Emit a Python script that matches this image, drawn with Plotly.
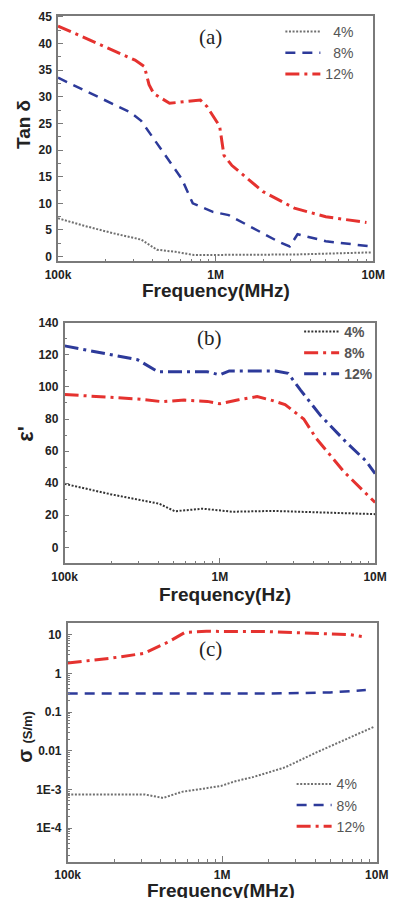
import plotly.graph_objects as go

# ---------------- data ----------------
# (a) Tan delta vs frequency
a_f4 = [1e5, 1.42e5, 2.23e5, 3.37e5, 4.24e5, 5.57e5, 7.3e5, 1e6, 3.16e6, 9.7e6]
a_v4 = [7.2, 5.9, 4.4, 3.2, 1.3, 0.9, 0.3, 0.3, 0.4, 0.8]
a_f8 = [1e5, 2.87e5, 3.37e5, 4.05e5, 5.1e5, 6.1e5, 7.16e5, 9.6e5, 1.21e6, 1.59e6, 2.51e6, 2.95e6, 3.31e6, 5.0e6, 9.7e6]
a_v8 = [33.6, 27.1, 25.5, 22.1, 18.0, 14.6, 10.0, 8.4, 7.8, 5.9, 2.8, 1.9, 4.2, 2.9, 1.9]
a_f12 = [1e5, 3.08e5, 3.53e5, 3.78e5, 4.05e5, 5.1e5, 8.0e5, 8.8e5, 1.06e6, 1.13e6, 1.27e6, 2.0e6, 3.16e6, 5.0e6, 9.06e6]
a_v12 = [43.3, 36.9, 35.7, 32.3, 30.6, 28.8, 29.4, 28.2, 24.5, 19.0, 17.1, 12.2, 9.1, 7.5, 6.4]

# (b) epsilon' vs frequency
b_f4 = [1e5, 2e5, 4.07e5, 5.13e5, 7.76e5, 1e6, 1.2e6, 2.2e6, 5e6, 1e7]
b_v4 = [39.6, 33, 27.2, 22.5, 24.1, 23.1, 22.2, 22.7, 21.6, 20.7]
b_f8 = [1e5, 2.95e5, 4.27e5, 5.89e5, 8.3e5, 1e6, 1.32e6, 1.74e6, 2.19e6, 2.63e6, 3.47e6, 4.17e6, 4.79e6, 6.31e6, 1e7]
b_v8 = [95.3, 92.5, 90.8, 91.8, 91, 89.5, 92, 94, 91.5, 89, 80, 68, 61, 47, 28]
b_f12 = [1e5, 2.95e5, 3.98e5, 8.3e5, 1e6, 1.15e6, 2.29e6, 2.75e6, 3.31e6, 4.47e6, 4.9e6, 6.6e6, 8.7e6, 1e7]
b_v12 = [125.6, 117, 109.5, 109.5, 107.5, 110, 110, 108.5, 98, 82, 78, 65, 54, 46]

# (c) sigma vs frequency
c_f4 = [1e5, 3.13e5, 4.14e5, 5.48e5, 9.8e5, 1.2e6, 1.6e6, 2.55e6, 4.07e6, 9.55e6]
c_v4 = [7.3e-4, 7.4e-4, 6.0e-4, 8.6e-4, 1.22e-3, 1.6e-3, 2.1e-3, 3.7e-3, 9e-3, 0.041]
c_f8 = [1e5, 5e5, 1e6, 2e6, 5e6, 8.5e6]
c_v8 = [0.30, 0.295, 0.29, 0.30, 0.32, 0.37]
c_f12 = [1e5, 1.95e5, 3.13e5, 4.55e5, 5.75e5, 7.9e5, 2e6, 4.05e6, 6.76e6, 8e6]
c_v12 = [1.85, 2.5, 3.3, 6.7, 11.5, 12.2, 12, 11, 10, 9]

x_tickvals = [1e5, 1e6, 1e7]
x_ticktext = ["100k", "1M", "10M"]
x_minor = [k * 1e5 for k in range(2, 10)] + [k * 1e6 for k in range(2, 10)]
c_y_tickvals = [1e-4, 1e-3, 1e-2, 1e-1, 1, 10]
c_y_ticktext = ["1E-4", "1E-3", "0.01", "0.1", "1", "10"]
c_y_minor = [k * 10.0 ** n for n in range(-5, 2) for k in range(2, 10)]

# ---------------- styling ----------------
W, H = 404, 898
RED = "#e5322f"
BLUE = "#2d3a9a"
GRAY = "#707070"
DARK = "#333333"
FRAME = "#7a7a7a"
FONT = "Liberation Sans, Arial, sans-serif"

DOT = "2px,1.6px"
DASH = "10px,7px"
DASHDOT = "14px,5px,3px,5px"


def px_x(p):
    return p / W


def px_y(p):
    return 1 - p / H


fig = go.Figure()


def add(x, y, name, color, dash, width, xa, ya, leg):
    fig.add_trace(go.Scatter(x=x, y=y, name=name, mode="lines",
                             line=dict(color=color, dash=dash, width=width),
                             xaxis=xa, yaxis=ya, legend=leg))


FS = "\u2007"
add(a_f4, a_v4, FS + "4%", GRAY, DOT, 2, "x", "y", "legend")
add(a_f8, a_v8, FS + "8%", BLUE, DASH, 2.5, "x", "y", "legend")
add(a_f12, a_v12, "12%", RED, DASHDOT, 3, "x", "y", "legend")

add(b_f4, b_v4, "4%", DARK, DOT, 2, "x2", "y2", "legend2")
add(b_f8, b_v8, "8%", RED, DASHDOT, 3, "x2", "y2", "legend2")
add(b_f12, b_v12, "12%", BLUE, DASHDOT, 3, "x2", "y2", "legend2")

add(c_f4, c_v4, "4%", GRAY, DOT, 2, "x3", "y3", "legend3")
add(c_f8, c_v8, "8%", BLUE, DASH, 2.5, "x3", "y3", "legend3")
add(c_f12, c_v12, "12%", RED, DASHDOT, 3, "x3", "y3", "legend3")

tickfont = dict(family=FONT, size=12, color="#222222", weight="bold")


def xaxis(dom, ya):
    return dict(type="log", range=[5, 7], domain=dom, anchor=ya,
                showline=True, mirror=True, linecolor=FRAME, linewidth=1.5,
                showgrid=False, zeroline=False,
                ticks="inside", ticklen=6, tickwidth=1.2, tickcolor=FRAME,
                tickvals=x_tickvals, ticktext=x_ticktext, tickfont=tickfont,
                ticklabelstandoff=1,
                minor=dict(ticks="inside", ticklen=3, tickwidth=1, tickcolor=FRAME,
                           tickvals=x_minor, showgrid=False))


def yaxis(dom, xa, rng, **kw):
    d = dict(range=rng, domain=dom, anchor=xa,
             showline=True, mirror=True, linecolor=FRAME, linewidth=1.5,
             showgrid=False, zeroline=False,
             ticks="inside", ticklen=5, tickwidth=1.2, tickcolor=FRAME,
             tickfont=tickfont, ticklabelstandoff=2)
    d.update(kw)
    return d


legfont = dict(family=FONT, size=14, color="#555555")

fig.update_layout(
    width=W, height=H, margin=dict(l=0, r=0, t=0, b=0),
    paper_bgcolor="white", plot_bgcolor="white",
    showlegend=True,
    xaxis=xaxis([px_x(48), px_x(384)], "y"),
    yaxis=yaxis([px_y(257), px_y(9)], "x", [-0.9, 45.2], dtick=5,
                minor=dict(ticks="inside", ticklen=3, tickwidth=1, tickcolor=FRAME, dtick=2.5)),
    xaxis2=xaxis([px_x(55), px_x(386)], "y2"),
    yaxis2=yaxis([px_y(562), px_y(319)], "x2", [-10, 140], dtick=20,
                 minor=dict(ticks="inside", ticklen=3, tickwidth=1, tickcolor=FRAME, dtick=10)),
    xaxis3=xaxis([px_x(58.3), px_x(387.7)], "y3"),
    yaxis3=yaxis([px_y(863.3), px_y(622.7)], "x3", [-4.87, 1.29], type="log",
                 tickvals=c_y_tickvals, ticktext=c_y_ticktext,
                 minor=dict(ticks="inside", ticklen=3, tickwidth=1, tickcolor=FRAME,
                            tickvals=c_y_minor)),
    legend=dict(x=px_x(285), y=px_y(9), xanchor="left", yanchor="top",
                bgcolor="rgba(0,0,0,0)", font=legfont, tracegroupgap=0, itemwidth=35),
    legend2=dict(x=px_x(305), y=px_y(312), xanchor="left", yanchor="top",
                 bgcolor="rgba(0,0,0,0)", font=dict(family=FONT, size=14, color="#555555", weight="bold"),
                 tracegroupgap=0, itemwidth=35),
    legend3=dict(x=px_x(297), y=px_y(769), xanchor="left", yanchor="top",
                 bgcolor="rgba(0,0,0,0)", font=legfont, tracegroupgap=0, itemwidth=35),
)

titlefont = dict(family=FONT, size=19, color="#222222", weight="bold")
serif = dict(family="Liberation Serif, Times New Roman, serif", size=21, color="#222222")


def ann(text, x, y, font, angle=0):
    fig.add_annotation(text=text, x=px_x(x), y=px_y(y), xref="paper", yref="paper",
                       xanchor="center", yanchor="middle", showarrow=False,
                       font=font, textangle=angle)


ann("(a)", 210, 30, serif)
ann("(b)", 209, 334, serif)
ann("(c)", 210.5, 648, serif)

ann("Frequency(MHz)", 216, 286, titlefont)
ann("Frequency(Hz)", 226, 593, titlefont)
ann("Frequency(MHz)", 222, 892, titlefont)

ann("Tan δ", 12, 119, dict(family=FONT, size=19, color="#222222", weight="bold"), -90)
ann("ε'", 14, 431, dict(family=FONT, size=22, color="#222222", weight="bold"), -90)
ann("σ <span style='font-size:13px'>(S/m)</span>", 12, 737,
    dict(family=FONT, size=20, color="#222222", weight="bold"), -90)

fig.write_html("out.html")
